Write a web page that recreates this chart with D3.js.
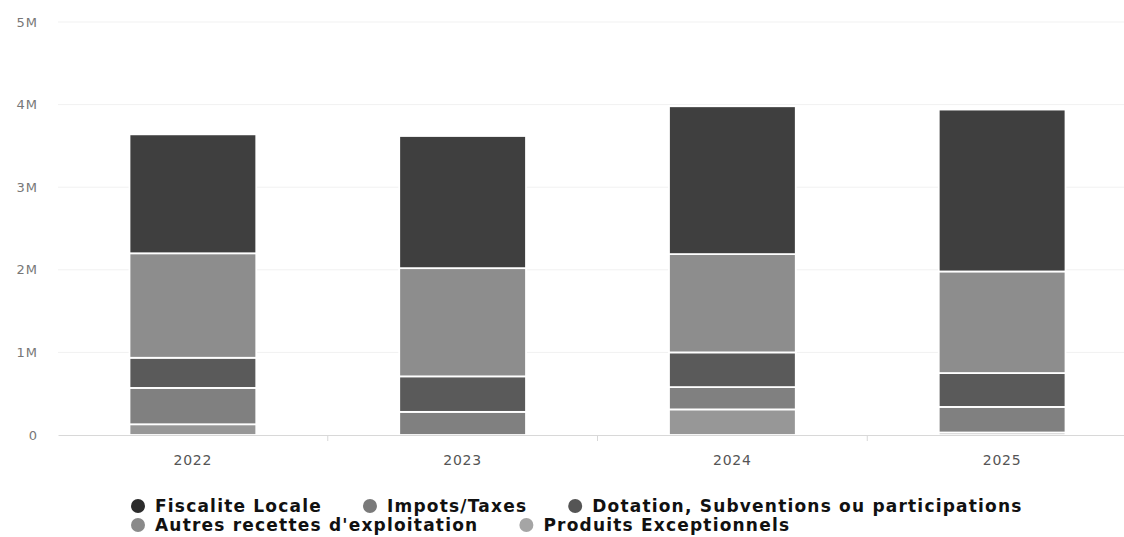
<!DOCTYPE html>
<html>
<head>
<meta charset="utf-8">
<script src="https://cdn.jsdelivr.net/npm/d3@7"></script>
<style>
  body { margin: 0; background: #fff; }
  svg { display: block; font-family: "DejaVu Sans", sans-serif; }
</style>
</head>
<body>
<svg id="svg" width="1124" height="537"></svg>
<script>
const years = ['2022', '2023', '2024', '2025']

// stack order: first series sits on top (Highcharts style)
const seriesNames = [
  'Fiscalite Locale',
  'Impots/Taxes',
  'Dotation, Subventions ou participations',
  'Autres recettes d\'exploitation',
  'Produits Exceptionnels'
]

const fiscaliteLocale = [1440000, 1600000, 1790000, 1960000]
const impotsTaxes = [1265000, 1310000, 1190000, 1230000]
const dotations = [365000, 430000, 420000, 410000]
const autresRecettes = [440000, 280000, 270000, 310000]
const produitsExceptionnels = [130000, 0, 310000, 30000]

const yTicks = [0, 1000000, 2000000, 3000000, 4000000, 5000000]
const yTickLabels = ['0', '1M', '2M', '3M', '4M', '5M']

const colors = ['#3f3f3f', '#8d8d8d', '#5a5a5a', '#808080', '#979797']
const legendColors = ['#2c2c2c', '#7a7a7a', '#555555', '#8a8a8a', '#a5a5a5']

const seriesValues = [fiscaliteLocale, impotsTaxes, dotations, autresRecettes, produitsExceptionnels]

const rows = years.map((year, i) => {
  const row = { year }
  seriesNames.forEach((name, s) => { row[name] = seriesValues[s][i] })
  return row
})

const svg = d3.select('#svg')

const xScale = d3.scaleBand()
  .domain(years)
  .range([58, 1137])
  .paddingInner(0.53)
  .paddingOuter(0.265)

const yScale = d3.scaleLinear()
  .domain([0, 5000000])
  .range([435, 22])

// gridlines
svg.append('g')
  .selectAll('line')
  .data(yTicks.slice(1))
  .join('line')
  .attr('x1', 58)
  .attr('x2', 1124)
  .attr('y1', d => yScale(d))
  .attr('y2', d => yScale(d))
  .attr('stroke', '#f1f1f1')

// y labels
const yAxis = d3.axisLeft(yScale)
  .tickValues(yTicks)
  .tickFormat((d, i) => yTickLabels[i])
  .tickSize(0)
  .tickPadding(0)

svg.append('g')
  .attr('transform', 'translate(38, 0)')
  .call(yAxis)
  .call(g => g.select('.domain').remove())
  .call(g => g.selectAll('text')
    .attr('fill', '#777')
    .attr('font-size', 13)
    .attr('letter-spacing', 1)
    .attr('font-family', '"DejaVu Sans", sans-serif'))

// stacked bars, reverse so the first series is drawn on top
const stack = d3.stack().keys(seriesNames.slice().reverse())
const stacked = stack(rows)

svg.append('g')
  .selectAll('g')
  .data(stacked)
  .join('g')
  .attr('fill', d => colors[seriesNames.indexOf(d.key)])
  .selectAll('rect')
  .data(d => d.filter(p => p[1] - p[0] > 0))
  .join('rect')
  .attr('x', d => xScale(d.data.year))
  .attr('width', xScale.bandwidth())
  .attr('y', d => yScale(d[1]))
  .attr('height', d => yScale(d[0]) - yScale(d[1]))
  .attr('stroke', '#fff')
  .attr('stroke-width', 1.8)

// x axis
const xAxis = d3.axisBottom(xScale).tickSize(0).tickPadding(20)
const xg = svg.append('g')
  .attr('transform', 'translate(0, 435)')
  .call(xAxis)
xg.select('.domain').attr('stroke', '#d8d8d8')
xg.selectAll('text')
  .attr('fill', '#555')
  .attr('font-size', 14)
  .attr('letter-spacing', 0.8)
  .attr('font-family', '"DejaVu Sans", sans-serif')

// category boundary ticks
xg.append('g')
  .selectAll('line')
  .data(years.slice(1))
  .join('line')
  .attr('x1', d => xScale(d) - xScale.step() * xScale.paddingInner() / 2)
  .attr('x2', d => xScale(d) - xScale.step() * xScale.paddingInner() / 2)
  .attr('y1', 0)
  .attr('y2', 6)
  .attr('stroke', '#d8d8d8')

// legend
const legendRows = [[0, 1, 2], [3, 4]]
const legend = svg.append('g')
legendRows.forEach((items, r) => {
  let x = 138
  const y = 506 + r * 19
  items.forEach(s => {
    const item = legend.append('g').attr('transform', `translate(${x}, ${y})`)
    item.append('circle')
      .attr('r', 7)
      .attr('fill', legendColors[s])
    const text = item.append('text')
      .attr('x', 17)
      .attr('dy', '0.36em')
      .attr('font-size', 17)
      .attr('font-weight', 'bold')
      .attr('letter-spacing', 1.2)
      .attr('fill', '#111')
      .text(seriesNames[s])
    x += 17 + text.node().getComputedTextLength() + 48
  })
})
</script>
</body>
</html>
